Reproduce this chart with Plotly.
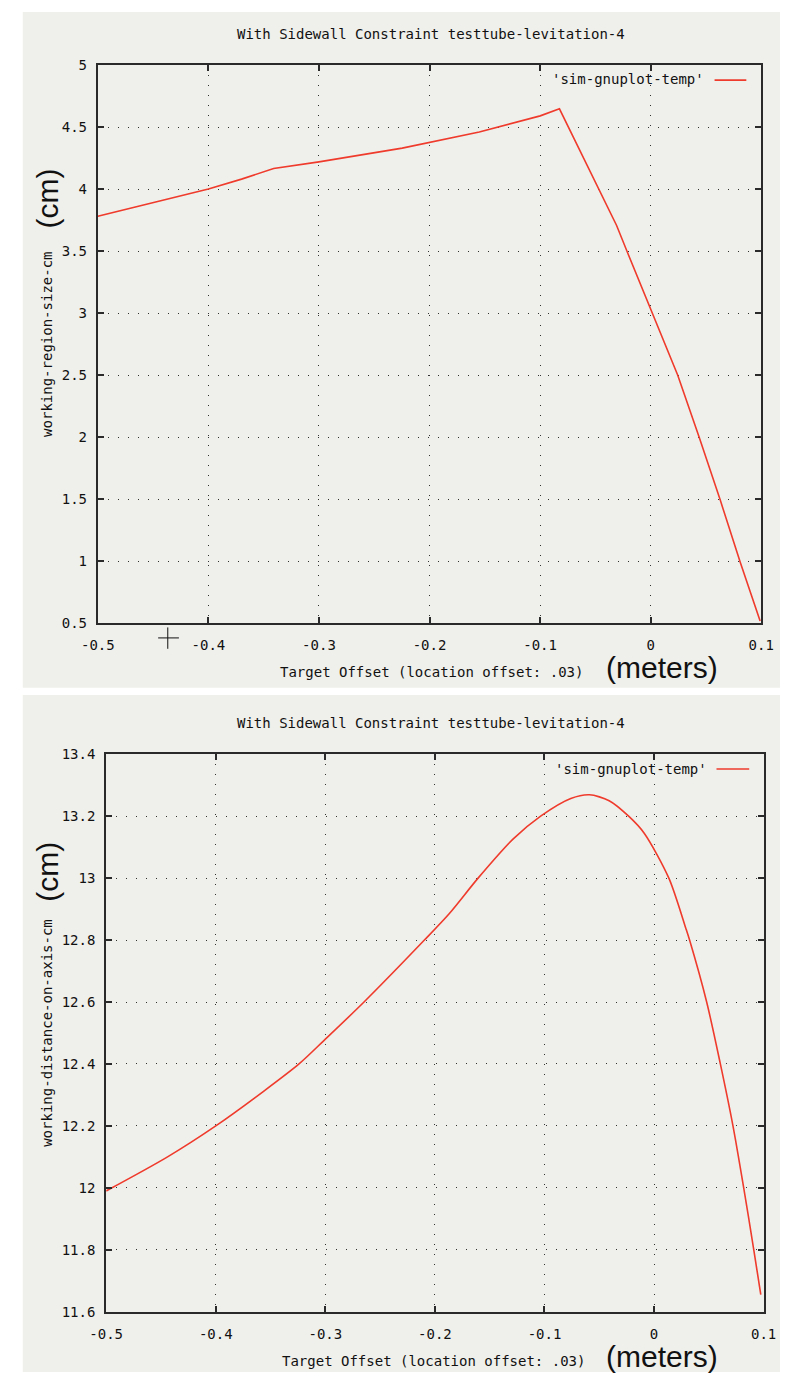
import plotly.graph_objects as go

# ---------------- data ----------------
top_x = [-0.5, -0.448, -0.4, -0.37, -0.341, -0.3, -0.2247, -0.155, -0.0999, -0.0825,
         -0.0462, -0.0308, -0.0215, 0.0017, 0.0244, 0.0438, 0.063, 0.081, 0.099]
top_y = [3.78, 3.897, 4.0, 4.08, 4.166, 4.219, 4.33, 4.46, 4.59, 4.647,
         3.99, 3.706, 3.5, 2.994, 2.5, 2.0, 1.49, 0.99, 0.516]

bot_x = [-0.5, -0.444, -0.4, -0.357, -0.324, -0.3, -0.2647, -0.2096,
         -0.187, -0.1606, -0.129, -0.1035, -0.076, -0.059, -0.041, -0.0232, -0.009,
         0.0135, 0.0288, 0.0324, 0.048, 0.0605, 0.072, 0.0818, 0.091, 0.0974]
bot_y = [11.99, 12.1, 12.2, 12.31, 12.4, 12.48, 12.6, 12.8,
         12.885, 13.0, 13.125, 13.2, 13.257, 13.269, 13.25, 13.2, 13.145,
         13.0, 12.84, 12.8, 12.6, 12.4, 12.2, 12.0, 11.8, 11.655]

x_ticks = [-0.5, -0.4, -0.3, -0.2, -0.1, 0, 0.1]
x_tick_text = ["-0.5", "-0.4", "-0.3", "-0.2", "-0.1", "0", "0.1"]
top_y_ticks = [0.5, 1, 1.5, 2, 2.5, 3, 3.5, 4, 4.5, 5]
top_y_text = ["0.5", "1", "1.5", "2", "2.5", "3", "3.5", "4", "4.5", "5"]
bot_y_ticks = [11.6, 11.8, 12, 12.2, 12.4, 12.6, 12.8, 13, 13.2, 13.4]
bot_y_text = ["11.6", "11.8", "12", "12.2", "12.4", "12.6", "12.8", "13", "13.2", "13.4"]

series_name = "'sim-gnuplot-temp'"
title_text = "With Sidewall Constraint testtube-levitation-4"
xlabel_text = "Target Offset (location offset: .03)"
top_ylabel = "working-region-size-cm"
bot_ylabel = "working-distance-on-axis-cm"

# ---------------- geometry helpers ----------------
W, H = 793, 1380
def px(x):
    return x / W
def py(y):
    return 1 - y / H

BG = "#efefeb"
RED = "#ef3b2c"
INK = "#111111"
MONO = "DejaVu Sans Mono"
SANS = "Liberation Sans"

fig = go.Figure()
fig.add_trace(go.Scatter(x=top_x, y=top_y, mode="lines", line=dict(color=RED, width=1.6),
                         xaxis="x", yaxis="y", showlegend=False, name=series_name))
fig.add_trace(go.Scatter(x=bot_x, y=bot_y, mode="lines",
                         line=dict(color=RED, width=1.6, shape="spline", smoothing=0.8),
                         xaxis="x2", yaxis="y2", showlegend=False, name=series_name))

axis_common = dict(
    showline=True, linecolor="#2a2a2a", linewidth=2, mirror="allticks",
    ticks="inside", ticklen=6, tickwidth=1.5, tickcolor="#2a2a2a",
    showgrid=True, gridcolor="#333333", gridwidth=1.3, griddash="1.2px,8.8px",
    zeroline=False, tickfont=dict(family=MONO, size=14, color=INK),
)

fig.update_layout(
    width=W, height=H,
    margin=dict(l=0, r=0, t=0, b=0),
    paper_bgcolor="white", plot_bgcolor=BG,
    showlegend=False,
    xaxis=dict(domain=[px(84), px(773.5)], anchor="y", range=[-0.5, 0.1],
               tickvals=x_ticks, ticktext=x_tick_text, ticklabelstandoff=8, **axis_common),
    yaxis=dict(domain=[py(622.3), py(57.7)], anchor="x", range=[0.5, 5],
               tickvals=top_y_ticks, ticktext=top_y_text, ticklabelstandoff=6, **axis_common),
    xaxis2=dict(domain=[px(92.7), px(776)], anchor="y2", range=[-0.5, 0.1],
                tickvals=x_ticks, ticktext=x_tick_text, ticklabelstandoff=8, **axis_common),
    yaxis2=dict(domain=[py(1319), py(755)], anchor="x2", range=[11.6, 13.4],
                tickvals=bot_y_ticks, ticktext=bot_y_text, ticklabelstandoff=6, **axis_common),
)

shapes = [
    dict(type="rect", xref="paper", yref="paper", x0=px(6), x1=1, y0=py(687.7), y1=py(4),
         fillcolor=BG, line=dict(width=0), layer="below"),
    dict(type="rect", xref="paper", yref="paper", x0=px(6), x1=1, y0=0, y1=py(695),
         fillcolor=BG, line=dict(width=0), layer="below"),
    # legend line samples
    dict(type="line", xref="paper", yref="paper", x0=px(725), x1=px(758), y0=py(73), y1=py(73),
         line=dict(color=RED, width=1.6)),
    dict(type="line", xref="paper", yref="paper", x0=px(727), x1=px(761), y0=py(770), y1=py(770),
         line=dict(color=RED, width=1.6)),
    # mouse crosshair cursor
    dict(type="line", xref="paper", yref="paper", x0=px(146.7), x1=px(168.3), y0=py(637.3), y1=py(637.3),
         line=dict(color=INK, width=1)),
    dict(type="line", xref="paper", yref="paper", x0=px(156.7), x1=px(156.7), y0=py(626.7), y1=py(648.3),
         line=dict(color=INK, width=1)),
]
fig.update_layout(shapes=shapes)

def ann(text, x, y, size=14, family=MONO, angle=0, xanchor="center"):
    return dict(text=text, x=px(x), y=py(y), xref="paper", yref="paper", showarrow=False,
                xanchor=xanchor, yanchor="middle", textangle=angle,
                font=dict(family=family, size=size, color=INK if family == MONO else "#111111"))

annotations = [
    ann(title_text, 430, 26),
    ann(xlabel_text, 431, 672),
    ann(top_ylabel, 31, 340, angle=-90),
    ann("(cm)", 32, 193, size=30, family=SANS, angle=-90),
    ann("(meters)", 670, 667, size=30, family=SANS),
    ann(series_name, 716, 72, xanchor="right"),
    ann(title_text, 430, 723),
    ann(xlabel_text, 433, 1369),
    ann(bot_ylabel, 31, 1037, angle=-90),
    ann("(cm)", 32, 874, size=30, family=SANS, angle=-90),
    ann("(meters)", 670, 1364, size=30, family=SANS),
    ann(series_name, 719, 770, xanchor="right"),
]
fig.update_layout(annotations=annotations)

fig.write_html(
    "out.html",
    config={"displayModeBar": False},
    post_script="document.body.style.margin='0';document.body.style.overflow='hidden';",
)
